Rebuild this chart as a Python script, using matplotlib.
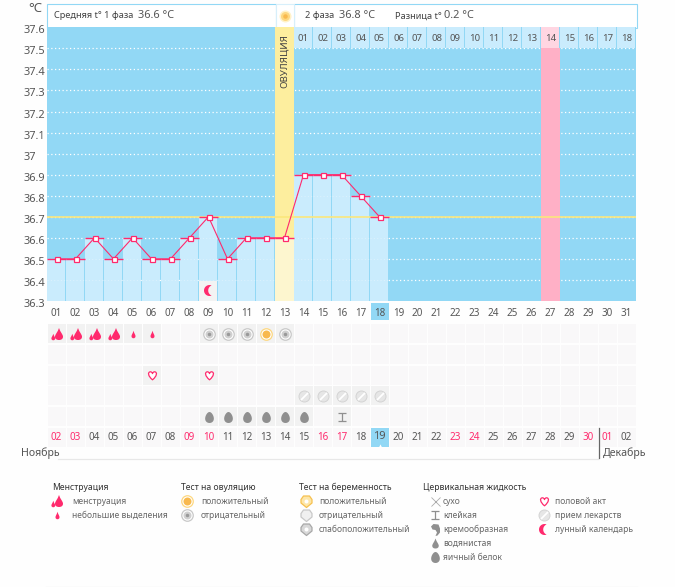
import numpy as np
import matplotlib
matplotlib.use("Agg")
import matplotlib.pyplot as plt
from matplotlib.patches import Rectangle
from matplotlib.path import Path
from matplotlib.transforms import ScaledTranslation

W, H = 675, 587
plt.rcParams['font.family'] = ['Noto Sans', 'DejaVu Sans']

# ---- data ----
cycle_days = [f"{d:02d}" for d in range(1, 32)]
temps = [36.5, 36.5, 36.6, 36.5, 36.6, 36.5, 36.5, 36.6, 36.7, 36.5, 36.6, 36.6, 36.6,
         36.9, 36.9, 36.9, 36.8, 36.7]
y_ticks = [37.6, 37.5, 37.4, 37.3, 37.2, 37.1, 37.0, 36.9, 36.8, 36.7, 36.6, 36.5, 36.4, 36.3]
y_labels = ["37.6", "37.5", "37.4", "37.3", "37.2", "37.1", "37", "36.9", "36.8", "36.7",
            "36.6", "36.5", "36.4", "36.3"]
cover_line = 36.7
ovulation_col = 12
luteal_start = 13
luteal_days = [f"{d:02d}" for d in range(1, 19)]
luteal_peak_col = 26
today_col = 17
moon_col = 8
dates = ["02", "03", "04", "05", "06", "07", "08", "09", "10", "11", "12", "13", "14", "15", "16", "17",
         "18", "19", "20", "21", "22", "23", "24", "25", "26", "27", "28", "29", "30", "01", "02"]
weekend_idx = [0, 1, 7, 8, 14, 15, 21, 22, 28, 29]
symbol_rows = {
    0: [(0, "men"), (1, "men"), (2, "men"), (3, "men"), (4, "spot"), (5, "spot"),
        (8, "ovneg"), (9, "ovneg"), (10, "ovneg"), (11, "ovpos"), (12, "ovneg")],
    2: [(5, "heart"), (8, "heart")],
    3: [(13, "pill"), (14, "pill"), (15, "pill"), (16, "pill"), (17, "pill")],
    4: [(8, "egg"), (9, "egg"), (10, "egg"), (11, "egg"), (12, "egg"), (13, "egg"), (15, "sticky")],
}

BLUE = "#92d8f5"; LIGHT = "#caecfd"; PINK = "#ff2a6d"; TXT = "#555555"
YEL = "#fdee9e"; PALEY = "#fdf6cf"; ROSE = "#ffb0c6"; ROSEL = "#ffd6e2"

fig = plt.figure(figsize=(W/100, H/100), dpi=100, facecolor="#fefefe")

def px_axes(z):
    a = fig.add_axes([0, 0, 1, 1], zorder=z)
    a.set_xlim(0, W); a.set_ylim(H, 0); a.axis("off"); a.patch.set_alpha(0)
    return a

bg = px_axes(0)
fg = px_axes(5)

X0, DX = 47, 19
YB, YT = 301, 27.3
ax = fig.add_axes([X0/W, 1-YB/H, 31*DX/W, (YB-YT)/H], zorder=1, facecolor=BLUE)
ax.set_xlim(0, 31); ax.set_ylim(36.3, 37.6)
for s in ax.spines.values():
    s.set_visible(False)

# ---- icons ----
def cubic_drop(cx, cy, w, h):
    k = w/2
    v = [(cx, cy+h/2), (cx+k*0.35, cy+h*0.15), (cx+k, cy-h*0.05), (cx+k, cy-h*0.22),
         (cx+k, cy-h*0.42), (cx+k*0.55, cy-h/2), (cx, cy-h/2),
         (cx-k*0.55, cy-h/2), (cx-k, cy-h*0.42), (cx-k, cy-h*0.22),
         (cx-k, cy-h*0.05), (cx-k*0.35, cy+h*0.15), (cx, cy+h/2), (cx, cy+h/2)]
    c = [Path.MOVETO] + [Path.CURVE4]*12 + [Path.CLOSEPOLY]
    return Path(v, c)

def egg_path(w, h):
    t = np.linspace(0, 2*np.pi, 40)
    yn = np.sin(t)
    xs_ = np.cos(t)*(w/2)*(1-0.22*yn)
    return Path(np.column_stack([xs_, yn*h/2]), closed=False)

def crescent_path(r, d):
    a = np.arccos(d/(2*r))
    t1 = np.linspace(a, 2*np.pi-a, 30)
    outer = np.column_stack([r*np.cos(t1), r*np.sin(t1)])
    t2 = np.linspace(np.pi+a, np.pi-a, 20)
    inner = np.column_stack([d + r*np.cos(t2), r*np.sin(t2)])
    return Path(np.vstack([outer, inner]))

def heart_path(s):
    v = [(0, -1), (-1.05, -0.15), (-1.15, 0.75), (-0.55, 0.85), (-0.25, 0.9), (-0.05, 0.65), (0, 0.45),
         (0.05, 0.65), (0.25, 0.9), (0.55, 0.85), (1.15, 0.75), (1.05, -0.15), (0, -1), (0, -1)]
    c = [Path.MOVETO] + [Path.CURVE4]*12 + [Path.CLOSEPOLY]
    return Path(np.array(v)*s, c)

def pmark(a, x, y, path, fc, ec="none", lw=0, z=6):
    m = np.max(np.abs(path.vertices))
    a.plot([x], [y], marker=path, ms=2*m*0.72, mfc=fc, mec=ec, mew=lw,
           ls="none", zorder=z, clip_on=False)

def circ(a, x, y, d, fc, ec="none", lw=0, z=6):
    a.plot([x], [y], marker="o", ms=d*0.72, mfc=fc, mec=ec, mew=lw, ls="none", zorder=z, clip_on=False)

def icon(a, kind, x, y):
    if kind == "men":
        pmark(a, x, y, Path.make_compound_path(cubic_drop(1.5, 0.5, 8, 12), cubic_drop(-4.2, -2.5, 3.8, 6.5)), PINK)
    elif kind == "spot":
        pmark(a, x, y, cubic_drop(0, 0, 4, 7.5), PINK)
    elif kind in ("ovneg", "ovpos"):
        col = ("#c8c8c8", "#f0f0f0", "#aeaeae") if kind == "ovneg" else ("#fdd77f", "#fdeab0", "#f8b94e")
        circ(a, x, y, 11.5, "white", col[0], 0.9)
        circ(a, x, y, 8, col[2] if kind == "ovpos" else "#d0d0d0", z=6.1)
        circ(a, x, y, 3.5, col[2] if kind == "ovpos" else "#999999", z=6.2)
    elif kind == "heart":
        pmark(a, x, y, heart_path(4.3), "white", PINK, 0.9)
    elif kind == "pill":
        circ(a, x, y, 11, "#e6e6e6", "#d4d4d4", 0.7)
        a.plot([x], [y], marker=Path([(-3.5, -3.5), (3.5, 3.5)], [Path.MOVETO, Path.LINETO]), ms=7*0.72,
               mec="white", mew=1.3, ls="none", zorder=6.2, clip_on=False)
    elif kind == "egg":
        pmark(a, x, y, egg_path(8.5, 11), "#8f8f8f")
    elif kind == "water":
        pmark(a, x, y, cubic_drop(0, 0, 6.5, 10), "#8f8f8f")
    elif kind == "sticky":
        v = [(-4, 4), (4, 4), (0, 4), (0, -4), (-4, -4), (4, -4)]
        c = [Path.MOVETO, Path.LINETO, Path.MOVETO, Path.LINETO, Path.MOVETO, Path.LINETO]
        a.plot([x], [y], marker=Path(v, c), ms=8*0.72, mec="#8f8f8f", mew=0.9, ls="none", zorder=6, clip_on=False)
    elif kind == "dry":
        a.plot([x], [y], marker="x", ms=9*0.72, mec="#aaaaaa", mew=0.6, ls="none", zorder=6, clip_on=False)
    elif kind == "cream":
        pts = [(-4.5, 3), (-2, 5.5), (3, 5), (4.5, 1), (4.5, -3), (2, -6), (0, -6.5), (1.5, -3), (0, -0.5), (-3, 0)]
        pmark(a, x, y, Path(pts + [pts[0]], closed=True), "#8f8f8f")
    elif kind == "moon":
        pmark(a, x, y, crescent_path(5.5, 4.2), PINK)
    elif kind == "sun":
        circ(a, x, y, 12, "#fff2c8", "#d7effb", 0)
        circ(a, x, y, 9, "#fdd77f", z=6.1)
        circ(a, x, y, 4.5, "#f8b94e", z=6.2)
    elif kind in ("prpos", "prneg", "prweak"):
        ec = {"prpos": "#f6c04f", "prneg": "#c8c8c8", "prweak": "#a8a8a8"}[kind]
        fc = {"prpos": "#fde6a8", "prneg": "#f0f0f0", "prweak": "#d8d8d8"}[kind]
        v = [(0, -6), (-5.5, -1.5), (-5.5, 2), (-3, 5.5), (3, 5.5), (5.5, 2), (5.5, -1.5), (0, -6)]
        pmark(a, x, y, Path(v, closed=True), fc, ec, 0.9)
        if kind != "prneg":
            circ(a, x-0.5, y, 4, "white", z=6.2)

# ---- main chart ----
ax.hlines(y_ticks[1:-1], 0, 31, colors="white", lw=0.9, linestyles=(0, (1, 2)), zorder=1)
ax.bar(ovulation_col, 1.3, width=1, bottom=36.3, align="edge", color=YEL, zorder=2)
ax.bar(luteal_peak_col, 1.2, width=1, bottom=36.3, align="edge", color=ROSE, zorder=2)
cols = np.arange(len(temps))
for i in cols:
    c = PALEY if i == ovulation_col else LIGHT
    w = 1 if i == ovulation_col else 18/19
    ax.bar(i, temps[i]-36.3, width=w, bottom=36.3, align="edge", color=c, zorder=3)
    for t in y_ticks[1:-1]:
        if t < temps[i] and i != ovulation_col:
            ax.hlines(t, i, i+w, colors="white", lw=0.8, alpha=0.3, linestyles=(0, (1, 2)), zorder=3.1)
# header cells of the second phase
for n, lab in enumerate(luteal_days):
    i = luteal_start + n
    ax.bar(i, 0.1, width=18/19, bottom=37.5, align="edge", color=ROSEL if i == luteal_peak_col else LIGHT, zorder=3)
    ax.text(i+0.5, 37.546, lab, ha="center", va="center", fontsize=6.9, color=TXT, zorder=4)
ax.text(ovulation_col+0.5, 37.44, "ОВУЛЯЦИЯ", rotation=90, ha="center", va="center", fontsize=7.0,
        color="#444444", zorder=4)
ax.axhline(cover_line, color="#fbe77c", lw=1.2, zorder=3.5)
xs = cols + 0.5
ax.plot(xs, temps, color=PINK, lw=0.8, zorder=4)
ax.hlines(temps, cols, cols+1, colors=PINK, lw=1.0, zorder=4)
ax.plot(xs, temps, ls="none", marker="s", ms=3.6, mfc="white", mec=PINK, mew=0.9, zorder=5)

# moon cell in chart
ax.bar(moon_col, 0.095, width=18/19, bottom=36.3, align="edge", color="#f3f3f3", zorder=4)
icon(ax, "moon", moon_col+0.5, 36.35)

# axis ticks
ax.set_yticks(y_ticks); ax.set_yticklabels(y_labels)
ax.tick_params(axis="y", length=0, pad=16.6, labelsize=7.9, labelcolor=TXT)
off = ScaledTranslation(0, -2/100, fig.dpi_scale_trans)
for lab in ax.get_yticklabels():
    lab.set_ha("left")
    lab.set_transform(lab.get_transform() + off)
ax.set_xticks(np.arange(31)+0.5); ax.set_xticklabels(cycle_days)
ax.tick_params(axis="x", length=0, pad=5, labelsize=7.1, labelcolor=TXT)

# today highlight behind the cycle-day tick label
bg.add_patch(Rectangle((X0+today_col*DX+0.5, 303), 18, 17, color=BLUE, lw=0))

# ---- header ----
for (x0, x1) in [(47, 276), (294, 637)]:
    bg.add_patch(Rectangle((x0, 3.5), x1-x0, 24, fc="white", ec=BLUE, lw=0.8))
bg.add_patch(Rectangle((276, 3.5), 18, 24, fc="white", ec="#d7effb", lw=0.8))
icon(fg, "sun", 285, 16)
fg.text(28, 8, "°C", fontsize=9.5, color=TXT, va="center")
fg.text(54, 16, "Средняя t° 1 фаза", fontsize=6.6, color="#444444", va="center")
fg.text(138, 15.5, "36.6 °C", fontsize=7.9, color=TXT, va="center")
fg.text(305, 16, "2 фаза", fontsize=6.6, color="#444444", va="center")
fg.text(339, 15.5, "36.8 °C", fontsize=7.9, color=TXT, va="center")
fg.text(395, 16, "Разница t°", fontsize=6.6, color="#444444", va="center")
fg.text(444, 15.5, "0.2 °C", fontsize=7.9, color=TXT, va="center")

# ---- symbol grid ----
ROW0, DR = 324, 20.8
for r in range(6):
    for i in range(31):
        bg.add_patch(Rectangle((X0+i*DX+0.5, ROW0+r*DR), 18, 19, fc="#f9f8f9", lw=0))
for r, items in symbol_rows.items():
    for i, kind in items:
        bg.add_patch(Rectangle((X0+i*DX+0.5, ROW0+r*DR), 18, 19, fc="#f2f2f2", lw=0))
        icon(fg, kind, X0+i*DX+9.5, ROW0+r*DR+9.5)

# date row
date_y = ROW0+5*DR+9.5
for i, lab in enumerate(dates):
    col = PINK if i in weekend_idx else TXT
    big = i == today_col
    if big:
        bg.add_patch(Rectangle((X0+i*DX+0.5, ROW0+5*DR), 18, 19, fc=BLUE, lw=0))
        fg.plot([X0+i*DX+9.5], [ROW0+5*DR+17.5], marker="^", ms=3, mfc="white", mec="none", ls="none", zorder=6)
    fg.text(X0+i*DX+9.5, date_y-(1 if big else 0), lab, ha="center", va="center",
            fontsize=8 if big else 7.1, color=col)
fg.plot([598.5, 598.5], [428, 458], color="#666666", lw=0.9)
fg.plot([58, 598], [458.5, 458.5], color="#e8e8e8", lw=0.9, zorder=1)
fg.text(21, 453, "Ноябрь", fontsize=7.6, color=TXT, va="center")
fg.text(603, 453, "Декабрь", fontsize=7.6, color=TXT, va="center")

# ---- legend ----
LEG = [
    (52, "Менструация", 57, 72, [("men", "менструация"), ("spot", "небольшие выделения")]),
    (181, "Тест на овуляцию", 187, 201, [("ovpos", "положительный"), ("ovneg", "отрицательный")]),
    (299, "Тест на беременность", 306, 319, [("prpos", "положительный"), ("prneg", "отрицательный"),
                                            ("prweak", "слабоположительный")]),
    (423, "Цервикальная жидкость", 435, 443, [("dry", "сухо"), ("sticky", "клейкая"), ("cream", "кремообразная"),
                                             ("water", "водянистая"), ("egg", "яичный белок")]),
    (None, None, 544, 555, [("heart", "половой акт"), ("pill", "прием лекарств"), ("moon", "лунный календарь")]),
]
for tx, title, ix, lx, items in LEG:
    if title:
        fg.text(tx, 487, title, fontsize=6.2, color="#333333", va="center", fontweight="medium")
    for k, (kind, lab) in enumerate(items):
        y = 501 + 14*k
        icon(fg, kind, ix, y)
        fg.text(lx, y, lab, fontsize=6.1, color="#666666", va="center")
fg.plot([46, 637], [586.5, 586.5], color="#e8e8e8", lw=0.9)

fig.savefig("out.png", dpi=100, facecolor=fig.get_facecolor())
